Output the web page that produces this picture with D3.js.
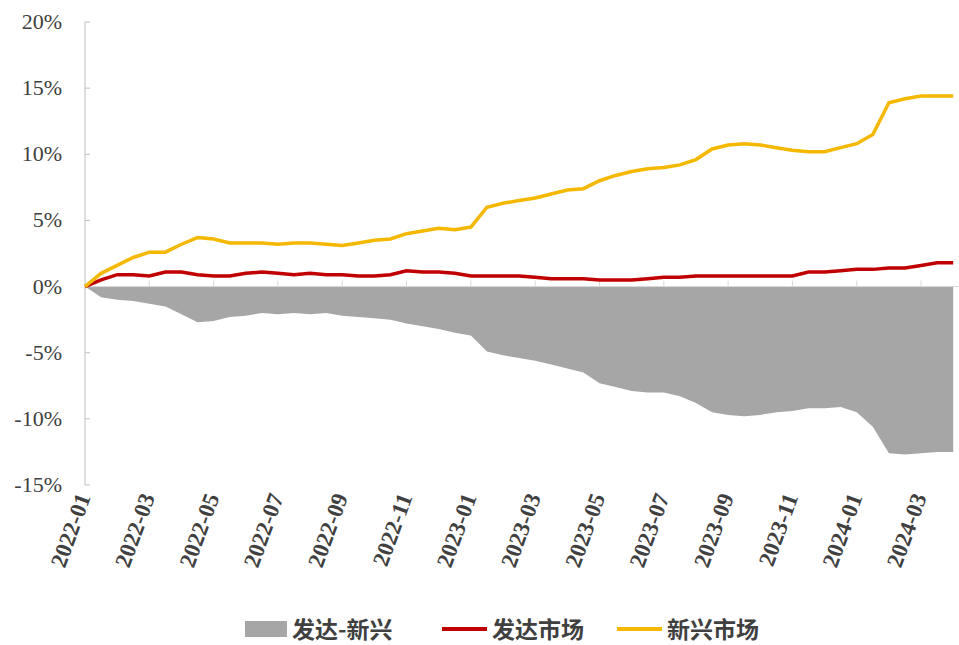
<!DOCTYPE html><html><head><meta charset="utf-8"><script src="https://cdn.jsdelivr.net/npm/d3@7"></script>
<style>body{margin:0;background:#fff}</style></head><body><svg id="c" width="959" height="645"></svg><script>
const tickLabels=["2022-01","2022-03","2022-05","2022-07","2022-09","2022-11","2023-01","2023-03","2023-05","2023-07","2023-09","2023-11","2024-01","2024-03"];
const yTicks=[-15,-10,-5,0,5,10,15,20];
const seriesNames=["发达-新兴","发达市场","新兴市场"];
const emerging=[0,1.0,1.6,2.2,2.6,2.6,3.2,3.7,3.6,3.3,3.3,3.3,3.2,3.3,3.3,3.2,3.1,3.3,3.5,3.6,4.0,4.2,4.4,4.3,4.5,6.0,6.3,6.5,6.7,7.0,7.3,7.4,8.0,8.4,8.7,8.9,9.0,9.2,9.6,10.4,10.7,10.8,10.7,10.5,10.3,10.2,10.2,10.5,10.8,11.5,13.9,14.2,14.4,14.4,14.4];
const developed=[0,0.5,0.9,0.9,0.8,1.1,1.1,0.9,0.8,0.8,1.0,1.1,1.0,0.9,1.0,0.9,0.9,0.8,0.8,0.9,1.2,1.1,1.1,1.0,0.8,0.8,0.8,0.8,0.7,0.6,0.6,0.6,0.5,0.5,0.5,0.6,0.7,0.7,0.8,0.8,0.8,0.8,0.8,0.8,0.8,1.1,1.1,1.2,1.3,1.3,1.4,1.4,1.6,1.8,1.8];
const diff=[0,-0.8,-1.0,-1.1,-1.3,-1.5,-2.1,-2.7,-2.6,-2.3,-2.2,-2.0,-2.1,-2.0,-2.1,-2.0,-2.2,-2.3,-2.4,-2.5,-2.8,-3.0,-3.2,-3.5,-3.7,-4.9,-5.2,-5.4,-5.6,-5.9,-6.2,-6.5,-7.3,-7.6,-7.9,-8.0,-8.0,-8.3,-8.8,-9.5,-9.7,-9.8,-9.7,-9.5,-9.4,-9.2,-9.2,-9.1,-9.5,-10.6,-12.6,-12.7,-12.6,-12.5,-12.5];
const svg=d3.select("#c");
const x=d3.scaleLinear().domain([0,27.18]).range([85,959]);
const y=d3.scaleLinear().domain([-15,20]).range([485,22]);
const idx=i=>i*0.5;
const g=svg.append("g");
g.append("path").datum(diff).attr("fill","#a6a6a6")
 .attr("d",d3.area().x((d,i)=>x(idx(i))).y0(y(0)).y1(d=>y(d)));
g.append("line").attr("x1",85).attr("x2",85).attr("y1",y(20)).attr("y2",y(-15)).attr("stroke","#bfbfbf");
yTicks.forEach(t=>{g.append("line").attr("x1",85).attr("x2",90).attr("y1",y(t)).attr("y2",y(t)).attr("stroke","#bfbfbf");
 g.append("text").attr("x",62).attr("y",y(t)+7).attr("text-anchor","end").attr("font-family","Liberation Serif").attr("font-size",22).attr("fill","#404040").text(t+"%");});
g.append("line").attr("x1",85).attr("x2",959).attr("y1",y(0)).attr("y2",y(0)).attr("stroke","#d9d9d9");
tickLabels.forEach((l,i)=>{const xx=x(i*2);
 g.append("line").attr("x1",xx).attr("x2",xx).attr("y1",y(0)).attr("y2",y(0)-6).attr("stroke","#d9d9d9");
 g.append("text").attr("transform",`translate(${xx+6},${497}) rotate(-70)`).attr("text-anchor","end").attr("font-family","Liberation Serif").attr("font-weight","bold").attr("font-size",23).attr("fill","#404040").text(l);});
const line=d3.line().x((d,i)=>x(idx(i))).y(d=>y(d));
g.append("path").datum(developed).attr("fill","none").attr("stroke","#c00000").attr("stroke-width",3.5).attr("d",line);
g.append("path").datum(emerging).attr("fill","none").attr("stroke","#f5b800").attr("stroke-width",3.5).attr("d",line);
const lg=svg.append("g").attr("font-family","Noto Sans CJK SC").attr("font-size",23).attr("font-weight","bold").attr("fill","#404040");
lg.append("rect").attr("x",245).attr("y",621).attr("width",42).attr("height",16).attr("fill","#a6a6a6");
lg.append("text").attr("x",292).attr("y",638).text(seriesNames[0]);
lg.append("line").attr("x1",442).attr("x2",487).attr("y1",629).attr("y2",629).attr("stroke","#c00000").attr("stroke-width",4);
lg.append("text").attr("x",492).attr("y",638).text(seriesNames[1]);
lg.append("line").attr("x1",617).attr("x2",662).attr("y1",629).attr("y2",629).attr("stroke","#f5b800").attr("stroke-width",4);
lg.append("text").attr("x",667).attr("y",638).text(seriesNames[2]);
</script></body></html>
